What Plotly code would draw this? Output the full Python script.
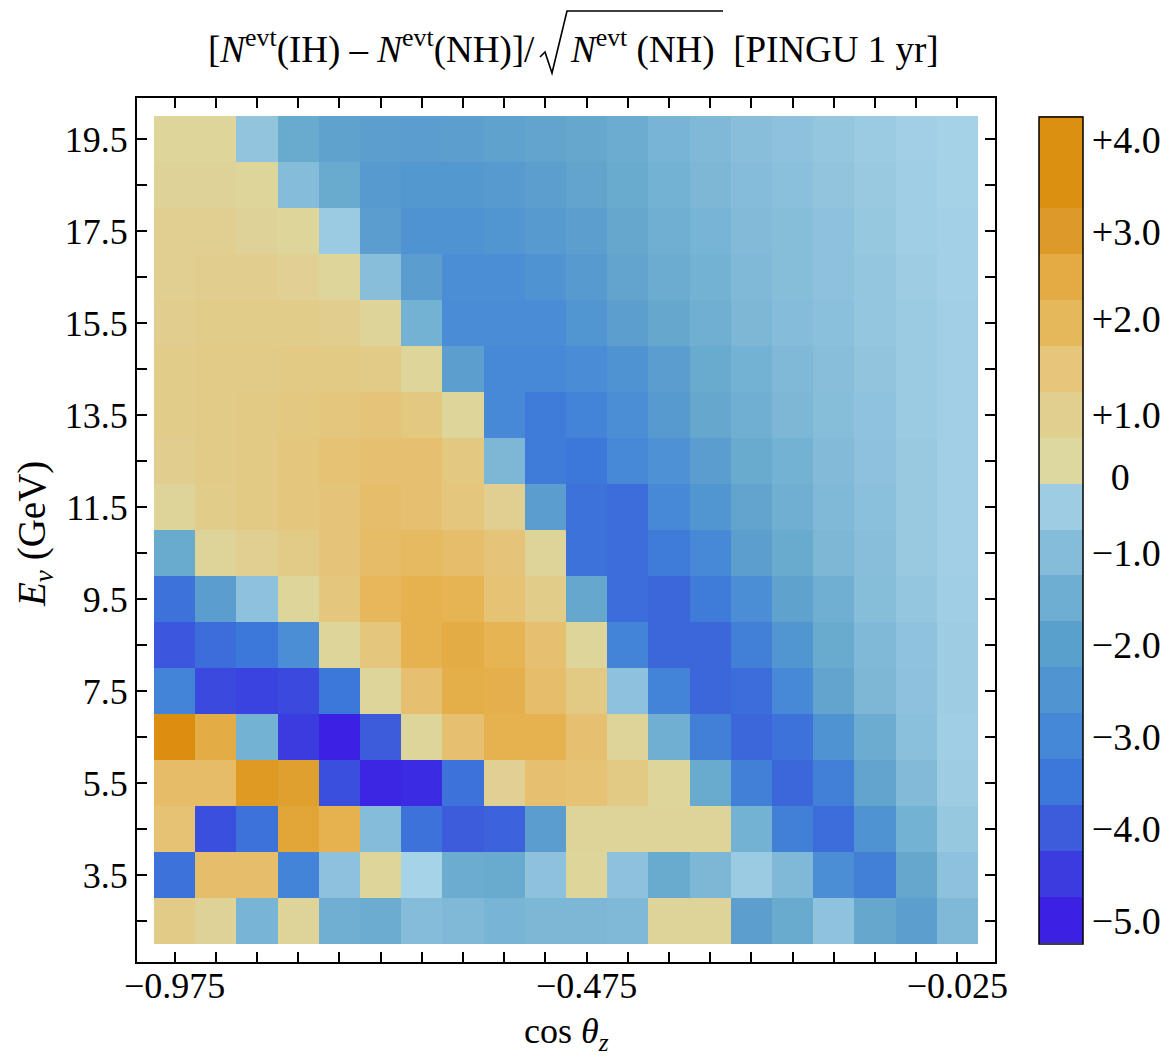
import plotly.graph_objects as go

# ---------------- data ----------------
cos_theta_bins = [-0.975, -0.925, -0.875, -0.825, -0.775, -0.725, -0.675, -0.625, -0.575, -0.525,
                  -0.475, -0.425, -0.375, -0.325, -0.275, -0.225, -0.175, -0.125, -0.075, -0.025]
energy_bins = [19.5, 18.5, 17.5, 16.5, 15.5, 14.5, 13.5, 12.5, 11.5, 10.5,
               9.5, 8.5, 7.5, 6.5, 5.5, 4.5, 3.5, 2.5]

# [N(IH) - N(NH)] / sqrt(N(NH)), rows follow energy_bins (top to bottom), columns follow cos_theta_bins
n_sigma = [
    [0.2, 0.2, -0.8, -1.8, -2.1, -2.2, -2.3, -2.2, -2.1, -2.0, -1.9, -1.7, -1.4, -1.2, -1.0, -0.9, -0.75, -0.6, -0.45, -0.35],
    [0.4, 0.4, 0.2, -1.1, -1.8, -2.4, -2.5, -2.5, -2.4, -2.2, -2.0, -1.8, -1.5, -1.3, -1.1, -0.95, -0.8, -0.65, -0.5, -0.35],
    [0.6, 0.6, 0.4, 0.2, -0.6, -2.3, -2.7, -2.7, -2.6, -2.4, -2.2, -1.9, -1.6, -1.4, -1.15, -1.05, -0.9, -0.7, -0.5, -0.4],
    [0.6, 0.7, 0.7, 0.5, 0.2, -1.0, -2.3, -2.9, -2.9, -2.7, -2.4, -2.0, -1.7, -1.5, -1.2, -1.05, -0.9, -0.75, -0.55, -0.4],
    [0.7, 0.8, 0.8, 0.8, 0.7, 0.3, -1.5, -3.0, -3.0, -3.0, -2.6, -2.2, -1.9, -1.6, -1.3, -1.1, -0.95, -0.75, -0.6, -0.45],
    [0.8, 0.9, 0.9, 1.0, 1.0, 0.9, 0.2, -2.2, -3.1, -3.1, -3.0, -2.7, -2.3, -1.8, -1.5, -1.2, -1.0, -0.8, -0.6, -0.45],
    [0.8, 0.9, 1.0, 1.1, 1.2, 1.3, 1.1, 0.2, -3.1, -3.4, -3.2, -2.9, -2.4, -1.9, -1.6, -1.3, -1.05, -0.85, -0.6, -0.45],
    [0.7, 0.9, 1.0, 1.2, 1.4, 1.5, 1.5, 1.1, -1.3, -3.4, -3.5, -3.1, -2.8, -2.3, -1.8, -1.5, -1.15, -0.9, -0.65, -0.45],
    [0.3, 0.8, 1.0, 1.2, 1.3, 1.6, 1.5, 1.2, 0.6, -2.3, -3.6, -3.7, -3.1, -2.6, -2.0, -1.6, -1.2, -0.95, -0.65, -0.45],
    [-1.8, 0.3, 0.6, 0.9, 1.3, 1.7, 1.8, 1.6, 1.3, 0.3, -3.6, -3.7, -3.4, -3.1, -2.2, -1.8, -1.3, -1.0, -0.65, -0.45],
    [-3.6, -2.3, -0.9, 0.2, 1.2, 1.9, 2.2, 2.1, 1.4, 0.8, -1.9, -3.7, -3.8, -3.4, -2.9, -2.1, -1.6, -1.05, -0.75, -0.5],
    [-4.1, -3.7, -3.5, -2.9, 0.2, 1.2, 2.2, 2.5, 2.1, 1.5, 0.2, -3.2, -3.8, -3.8, -3.3, -2.6, -1.8, -1.2, -0.85, -0.55],
    [-3.2, -4.3, -4.4, -4.3, -3.5, 0.2, 1.5, 2.4, 2.3, 1.6, 1.0, -0.9, -3.2, -3.8, -3.7, -3.1, -2.0, -1.3, -0.9, -0.55],
    [4.0, 2.5, -1.5, -4.5, -5.0, -4.0, 0.2, 1.5, 2.2, 2.2, 1.5, 0.3, -1.6, -3.3, -3.8, -3.6, -2.7, -1.7, -0.95, -0.5],
    [1.7, 1.7, 3.4, 3.0, -4.2, -4.9, -4.8, -3.6, 0.5, 1.5, 1.4, 1.0, 0.2, -1.8, -3.3, -3.8, -3.3, -2.0, -1.15, -0.55],
    [1.4, -4.2, -3.6, 2.8, 2.2, -1.1, -3.6, -4.0, -3.9, -2.3, 0.3, 0.3, 0.3, 0.3, -1.5, -3.3, -3.7, -2.7, -1.5, -0.7],
    [-3.6, 1.6, 1.6, -3.2, -0.9, 0.2, -0.3, -1.7, -1.8, -0.9, 0.2, -0.9, -1.8, -1.3, -0.6, -1.2, -2.9, -3.3, -1.9, -0.9],
    [0.9, 0.4, -1.4, 0.3, -1.6, -1.7, -1.1, -1.2, -1.4, -1.3, -1.3, -1.2, 0.3, 0.3, -2.2, -1.8, -0.85, -1.9, -2.2, -1.2],
]

x_tick_vals = [-0.975, -0.475, -0.025]
x_tick_text = ["\u22120.975", "\u22120.475", "\u22120.025"]
y_tick_vals = [3.5, 5.5, 7.5, 9.5, 11.5, 13.5, 15.5, 17.5, 19.5]
y_tick_text = ["3.5", "5.5", "7.5", "9.5", "11.5", "13.5", "15.5", "17.5", "19.5"]

# colour legend (bar legend with 0.5-wide bands)
legend_band_colors = ["#3C20E4", "#3A3CE0", "#3C5CDC", "#3C78DA", "#4688D8", "#5094D2",
                      "#5AA0CC", "#6EAED2", "#84BCDA", "#9ECCE2", "#DCD8A0", "#E0D090",
                      "#E6C67A", "#E6B85C", "#E4AA44", "#DE9A28", "#DC9010", "#DC9010"]
legend_label_text = ["\u22125.0", "\u22124.0", "\u22123.0", "\u22122.0", "\u22121.0",
                     "\u20020", "+1.0", "+2.0", "+3.0", "+4.0"]
legend_label_band = [0.5, 2.5, 4.5, 6.5, 8.5, 10.15, 11.5, 13.6, 15.5, 17.5]

# continuous colour map of the cells (value -> colour)
zmin, zmax = -5.0, 4.0
neg_anchor_vals = [-5.0, -4.5, -4.0, -3.5, -3.0, -2.5, -2.0, -1.5, -1.0, -0.5, -0.25, 0.0]
neg_anchor_cols = ["#3C20E4", "#3A3CE0", "#3C5CDC", "#3C78DA", "#4A8CD6", "#5498D0",
                   "#62A4CC", "#74B2D4", "#88BEDA", "#A0CEE4", "#A8D4E8", "#ACD8EA"]
pos_anchor_vals = [0.0, 0.5, 1.0, 1.5, 2.0, 2.5, 3.0, 3.5, 4.0]
pos_anchor_cols = ["#DCD8A0", "#E0D094", "#E2CA84", "#E6C070", "#E6B656", "#E4AC44",
                   "#E0A02E", "#DE9820", "#DC8E10"]

# ---------------- build ----------------
def norm(v):
    return (v - zmin) / (zmax - zmin)

cell_scale = [[norm(v), c] for v, c in zip(neg_anchor_vals, neg_anchor_cols)]
cell_scale += [[min(1.0, norm(v) + (1e-6 if i == 0 else 0)), c]
               for i, (v, c) in enumerate(zip(pos_anchor_vals, pos_anchor_cols))]

nb = len(legend_band_colors)
band_scale = []
for k, c in enumerate(legend_band_colors):
    band_scale.append([k / nb, c])
    band_scale.append([(k + 1) / nb, c])

FONT = "Liberation Serif, Times New Roman, serif"

L, R, T, B = 137, 178, 98, 100
W, H = 1173, 1062
pw, ph = W - L - R, H - T - B


def px(xp):
    return (xp - L) / pw


def py(yp):
    return (H - B - yp) / ph


fig = go.Figure()
fig.add_trace(go.Heatmap(
    x=cos_theta_bins, y=energy_bins, z=n_sigma,
    zmin=zmin, zmax=zmax, colorscale=cell_scale, showscale=False,
    hovertemplate="cos θz=%{x}<br>E=%{y} GeV<br>%{z}<extra></extra>",
))

# legend bar
fig.add_trace(go.Scatter(
    x=[None], y=[None], mode="markers", showlegend=False, hoverinfo="skip",
    marker=dict(color=[0], cmin=0, cmax=nb, colorscale=band_scale, showscale=True,
                colorbar=dict(
                    thickness=44, thicknessmode="pixels",
                    len=827 / ph, lenmode="fraction",
                    x=px(1039), xanchor="left", y=0.5, yanchor="middle",
                    outlinecolor="black", outlinewidth=1.5,
                    tickvals=legend_label_band, ticktext=legend_label_text,
                    ticks="", tickfont=dict(family=FONT, size=38, color="black"),
                    xpad=0, ypad=0,
                )),
))

tick_style = dict(ticks="inside", ticklen=10, tickwidth=1.5, tickcolor="black",
                  showline=True, linewidth=2, linecolor="black", mirror="ticks",
                  showgrid=False, zeroline=False,
                  tickfont=dict(family=FONT, size=36, color="black"))

fig.update_xaxes(
    range=[-1.0206, 0.0206], tickmode="array", tickvals=x_tick_vals, ticktext=x_tick_text,
    minor=dict(tickmode="array", tickvals=cos_theta_bins, ticks="inside", ticklen=10,
               tickwidth=1.5, tickcolor="black", showgrid=False),
    ticklabelstandoff=-9, **tick_style,
)
fig.update_yaxes(
    range=[1.6087, 20.3913], tickmode="array", tickvals=y_tick_vals, ticktext=y_tick_text,
    minor=dict(tickmode="array", tickvals=energy_bins, ticks="inside", ticklen=10,
               tickwidth=1.5, tickcolor="black", showgrid=False),
    **tick_style,
)

title_left = "[<i>N</i><sup>evt</sup>(IH) \u2013 <i>N</i><sup>evt</sup>(NH)]/"
title_right = "<i>N</i><sup>evt</sup> (NH)\u2002[PINGU 1 yr]"
TITLE_Y = 47

fig.update_layout(
    width=W, height=H, margin=dict(l=L, r=R, t=T, b=B),
    paper_bgcolor="white", plot_bgcolor="white",
    font=dict(family=FONT, color="black", size=36),
    annotations=[
        dict(text=title_left, xref="paper", yref="paper",
             x=px(537), y=py(TITLE_Y), xanchor="right", yanchor="middle",
             showarrow=False, font=dict(family=FONT, size=37, color="black")),
        dict(text=title_right, xref="paper", yref="paper",
             x=px(568), y=py(TITLE_Y), xanchor="left", yanchor="middle",
             showarrow=False, font=dict(family=FONT, size=37, color="black")),
        dict(text="<i>E</i><sub><i>ν</i></sub> (GeV)", xref="paper", yref="paper",
             x=px(34), y=py(534), xanchor="center", yanchor="middle", textangle=-90,
             showarrow=False, font=dict(family=FONT, size=39, color="black")),
        dict(text="cos <i>θ</i><sub><i>z</i></sub>", xref="paper", yref="paper",
             x=px(566), y=py(1033), xanchor="center", yanchor="middle",
             showarrow=False, font=dict(family=FONT, size=36, color="black")),
    ],
    shapes=[
        # radical sign with its vinculum over N^evt (NH)
        dict(type="path", xref="paper", yref="paper",
             path=(f"M {px(540)},{py(57)} L {px(545)},{py(52)} L {px(552)},{py(73)} "
                   f"L {px(567)},{py(11)} L {px(723)},{py(11)}"),
             line=dict(color="black", width=1.6)),
    ],
)

fig.write_html("out.html", config={"displayModeBar": False},
               post_script="document.body.style.margin='0';")
